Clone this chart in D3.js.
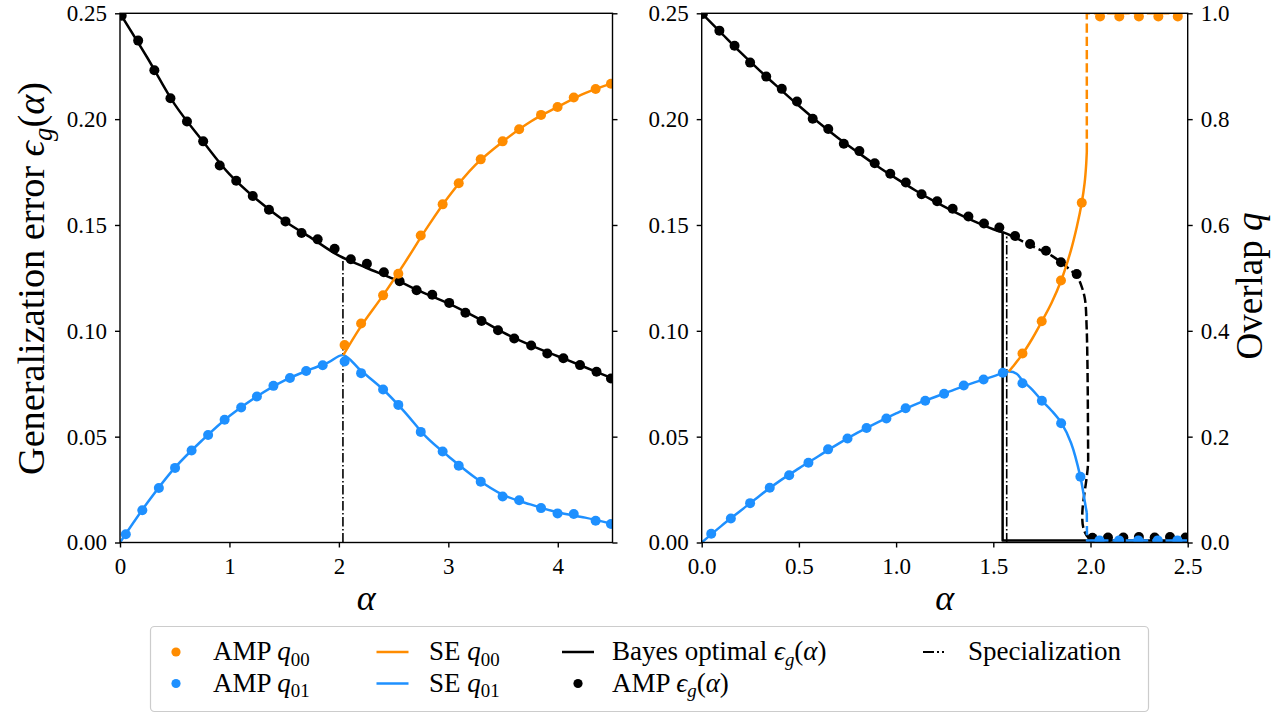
<!DOCTYPE html>
<html><head><meta charset="utf-8">
<script src="https://cdn.jsdelivr.net/npm/d3@7"></script>
<style>
body{margin:0;background:#fff;}
svg{display:block;}
</style>
</head><body>
<svg id="c" width="1283" height="713"></svg>
<script>
// ---------------- DATA : left panel ----------------
const alphaAmpEpsL=[0.015,0.166,0.314,0.461,0.612,0.760,0.911,1.062,1.213,1.361,1.512,1.659,1.806,1.961,2.109,2.256,2.411,2.555,2.710,2.853,3.008,3.156,3.303,3.454,3.602,3.757,3.904,4.051,4.203,4.354,4.486];
const ampEpsL=[0.2489,0.2371,0.2231,0.2099,0.1989,0.1895,0.1781,0.1709,0.1637,0.1572,0.1517,0.1462,0.1432,0.1388,0.1338,0.1317,0.1277,0.1234,0.1192,0.1170,0.1132,0.1085,0.1046,0.1003,0.0964,0.0931,0.0893,0.0870,0.0838,0.0807,0.0775];
const alphaBayesL=[0,0.25,0.5,0.75,1.0,1.25,1.5,1.75,2.0,2.25,2.5,2.75,3.0,3.25,3.5,3.75,4.0,4.25,4.5];
const bayesEpsL=[0.250,0.2290,0.2070,0.1900,0.1740,0.1620,0.1520,0.1438,0.1355,0.1298,0.1245,0.1185,0.1130,0.1065,0.0993,0.0932,0.0880,0.0828,0.0775];
const alphaAmpQ01L=[0.053,0.204,0.355,0.503,0.654,0.805,0.956,1.107,1.251,1.402,1.553,1.701,1.852,2.052,2.203,2.404,2.543,2.748,2.948,3.095,3.296,3.496,3.647,3.847,3.998,4.146,4.346,4.486];
const ampQ01L=[0.0157,0.061,0.103,0.141,0.174,0.203,0.232,0.255,0.276,0.296,0.311,0.324,0.335,0.342,0.320,0.289,0.260,0.209,0.172,0.145,0.115,0.087,0.080,0.065,0.055,0.054,0.041,0.035];
const alphaAmpQ00L=[2.052,2.203,2.404,2.543,2.748,2.948,3.095,3.296,3.496,3.647,3.847,3.998,4.146,4.346,4.486];
const ampQ00L=[0.373,0.414,0.467,0.508,0.580,0.639,0.679,0.724,0.758,0.781,0.808,0.823,0.841,0.857,0.867];
const alphaSeQ01L=[0,0.25,0.5,0.75,1.0,1.25,1.5,1.75,1.9,2.04,2.2,2.4,2.6,2.8,3.0,3.25,3.5,3.75,4.0,4.25,4.5];
const seQ01L=[0,0.075,0.141,0.193,0.239,0.276,0.306,0.328,0.340,0.354,0.325,0.290,0.247,0.199,0.163,0.122,0.090,0.072,0.057,0.047,0.035];
const alphaSeQ00L=[2.04,2.2,2.4,2.6,2.8,3.0,3.25,3.5,3.75,4.0,4.25,4.5];
const seQ00L=[0.354,0.408,0.466,0.528,0.593,0.653,0.714,0.758,0.795,0.823,0.849,0.868];
const alphaSpecL=[2.037,2.037];
const specEpsL=[0,0.1343];

// ---------------- DATA : right panel ----------------
const alphaAmpEpsR=[0.006,0.091,0.169,0.249,0.332,0.412,0.490,0.571,0.651,0.731,0.811,0.890,0.970,1.050,1.131,1.211,1.291,1.372,1.452,1.531,1.612,1.689,1.771,1.848,1.929,2.010,2.090,2.169,2.249,2.330,2.409,2.489];
const ampEpsR=[0.2497,0.2418,0.2347,0.2267,0.2201,0.2143,0.2083,0.2002,0.1953,0.1884,0.1849,0.1792,0.1742,0.1701,0.1645,0.1612,0.1577,0.1540,0.1507,0.1488,0.1448,0.1410,0.1378,0.1324,0.1268,0.0022,0.0024,0.0024,0.0026,0.0024,0.0026,0.0024];
const alphaBayesR=[0,0.1,0.2,0.3,0.4,0.5,0.6,0.7,0.8,0.9,1.0,1.1,1.2,1.3,1.4,1.5,1.548];
const bayesEpsR=[0.2500,0.2408,0.2315,0.2228,0.2145,0.2063,0.1985,0.1912,0.1845,0.1780,0.1720,0.1663,0.1610,0.1562,0.1518,0.1480,0.1466];
const alphaBayesStepR=[1.548,1.548,2.5];
const bayesStepEpsR=[0.1466,0.001,0.001];
const alphaMetaEpsR=[1.548,1.6,1.7,1.8,1.9,1.93,1.955,1.972,1.980,1.984,1.988,1.990,2.5];
const metaEpsR=[0.1466,0.1446,0.1400,0.1355,0.1284,0.1258,0.1208,0.1146,0.1020,0.0862,0.0400,0.0022,0.0022];
const alphaAmpQ01R=[0.049,0.150,0.249,0.350,0.450,0.549,0.650,0.750,0.848,0.950,1.049,1.150,1.247,1.348,1.450,1.549,1.650,1.750,1.849,1.948,2.046,2.147,2.246,2.346,2.447];
const ampQ01R=[0.0164,0.0452,0.0744,0.1036,0.1272,0.1508,0.1760,0.1964,0.2164,0.2344,0.2536,0.2680,0.2812,0.2968,0.3080,0.3208,0.3008,0.2680,0.2252,0.1244,0.004,0.004,0.004,0.004,0.004];
const alphaAmpQ00R=[1.650,1.749,1.848,1.955,2.049,2.148,2.249,2.349,2.449];
const ampQ00R=[0.357,0.418,0.495,0.642,0.994,0.994,0.994,0.994,0.994];
const alphaSeQ01R=[0,0.1,0.2,0.3,0.4,0.5,0.6,0.7,0.8,0.9,1.0,1.1,1.2,1.3,1.4,1.5,1.58,1.62,1.65,1.7,1.75,1.8,1.85,1.9,1.948,1.965,1.975,1.981];
const seQ01R=[0,0.031,0.060,0.089,0.116,0.140,0.163,0.186,0.207,0.226,0.244,0.261,0.275,0.289,0.302,0.314,0.323,0.319,0.306,0.289,0.268,0.249,0.226,0.188,0.124,0.090,0.068,0.056];
const alphaSeQ01MetaR=[1.981,1.982,2.5];
const seQ01MetaR=[0.056,0.004,0.004];
const alphaSeQ00R=[1.58,1.6,1.65,1.7,1.75,1.8,1.85,1.9,1.93,1.955,1.97,1.977,1.981];
const seQ00R=[0.323,0.332,0.356,0.385,0.418,0.453,0.496,0.553,0.597,0.642,0.680,0.710,0.738];
const alphaSeQ00MetaR=[1.981,1.981,2.5];
const seQ00MetaR=[0.738,1.0,1.0];
const alphaSpecR=[1.569,1.569];
const specEpsR=[0,0.1445];

// ---------------- ticks / labels ----------------
const xTicksL=[0,1,2,3,4];
const xTicksR=[0,0.5,1.0,1.5,2.0,2.5];
const yTicksEps=[0,0.05,0.10,0.15,0.20,0.25];
const yTicksQ=[0,0.2,0.4,0.6,0.8,1.0];

// ---------------- font detection ----------------
function pickFont(cands){
  const c=document.createElement("canvas").getContext("2d");
  const s="Generalization 0.25 AMPqg";
  function w(f){c.font="40px "+f;return c.measureText(s).width;}
  const m=w("monospace"), ss=w("sans-serif");
  for(const f of cands){
    const q='"'+f+'"';
    if(Math.abs(w(q+",monospace")-m)>0.5 && Math.abs(w(q+",sans-serif")-ss)>0.5) return q;
  }
  return "serif";
}
const FONT=pickFont(["Liberation Serif","DejaVu Serif","Noto Serif","Tinos","Times New Roman","Times","FreeSerif","Nimbus Roman","Nimbus Roman No9 L","Latin Modern Roman","CMU Serif","STIX Two Text","Georgia"]);

// ---------------- layout / style ----------------
const ORANGE="#ff8c00", BLUE="#1e90ff";
const Y0=13.3, Y1=542.5;
const svg=d3.select("#c").attr("font-family",FONT).style("font-family",FONT);
const xL=d3.scaleLinear().domain([0,4.5]).range([120,612.5]);
const xR=d3.scaleLinear().domain([0,2.5]).range([701.7,1187.7]);
const yE=d3.scaleLinear().domain([0,0.25]).range([Y1,Y0]);
const yQ=d3.scaleLinear().domain([0,1]).range([Y1,Y0]);
const TICKFS=23, LABFS=36, LEGFS=27;

function rich(sel,segs){
  let shifted=false;
  sel.style("font-family",FONT);
  segs.forEach(([t,st])=>{
    const ts=sel.append("tspan").text(t);
    if(st.includes("i")) ts.attr("font-style","italic");
    if(st.includes("s")){ ts.attr("font-size","0.7em").attr("dy", shifted?null:"0.3em"); shifted=true; }
    else if(shifted){ ts.attr("dy","-0.21em"); shifted=false; }
  });
  return sel;
}

function makePanel(id,x,xTicks,xFmt,rightLabels){
  const [a,b]=x.range();
  svg.append("clipPath").attr("id",id).append("rect")
    .attr("x",a).attr("y",Y0).attr("width",b-a).attr("height",Y1-Y0);
  const plot=svg.append("g").attr("clip-path",`url(#${id})`);
  const axes=svg.append("g");
  return {plot,axes,x,xTicks,xFmt,rightLabels};
}

function line(g,x,y,xs,ys,color,opt={}){
  const gen=d3.line().x((d,i)=>x(xs[i])).y((d,i)=>y(ys[i]))
    .curve(opt.linear?d3.curveLinear:d3.curveCatmullRom.alpha(0.5));
  g.append("path").attr("d",gen(xs)).attr("fill","none").attr("stroke",color)
    .attr("stroke-width",opt.w||2.5).attr("stroke-dasharray",opt.dash||null)
    .attr("stroke-linejoin","round");
}
function dots(g,x,y,xs,ys,color,r=5){
  g.selectAll(null).data(xs).enter().append("circle")
    .attr("cx",(d,i)=>x(xs[i])).attr("cy",(d,i)=>y(ys[i])).attr("r",r).attr("fill",color);
}
function styleAxis(g){
  g.attr("font-size",null).attr("font-family",null);
  g.select(".domain").remove();
  g.selectAll(".tick line").attr("stroke","#000").attr("stroke-width",1.4);
  g.selectAll(".tick text").attr("font-size",TICKFS).attr("fill","#000").style("font-family",FONT);
}
function finishAxes(p){
  const [a,b]=p.x.range();
  const gx=p.axes.append("g").attr("transform",`translate(0,${Y1})`)
    .call(d3.axisBottom(p.x).tickValues(p.xTicks).tickFormat(p.xFmt).tickSize(5).tickPadding(10.5));
  styleAxis(gx);
  const gy=p.axes.append("g").attr("transform",`translate(${a},0)`)
    .call(d3.axisLeft(yE).tickValues(yTicksEps).tickFormat(d3.format(".2f")).tickSize(5).tickPadding(8));
  styleAxis(gy);
  const gq=p.axes.append("g").attr("transform",`translate(${b},0)`)
    .call(d3.axisRight(yQ).tickValues(yTicksQ).tickFormat(p.rightLabels?d3.format(".1f"):()=>"").tickSize(5).tickPadding(8));
  styleAxis(gq);
  p.axes.append("rect").attr("x",a).attr("y",Y0).attr("width",b-a).attr("height",Y1-Y0)
    .attr("fill","none").attr("stroke","#000").attr("stroke-width",1.4);
  rich(p.axes.append("text").attr("x",(a+b)/2).attr("y",610).attr("text-anchor","middle")
    .attr("font-size",LABFS),[["α","i"]]);
}

// ---------------- left panel ----------------
const L=makePanel("clipL",xL,xTicksL,d3.format("d"),false);
line(L.plot,xL,yE,alphaBayesL,bayesEpsL,"#000");
dots(L.plot,xL,yE,alphaAmpEpsL,ampEpsL,"#000");
line(L.plot,xL,yE,alphaSpecL,specEpsL,"#000",{w:1.6,dash:"9.6,2.4,1.6,2.4",linear:true});
line(L.plot,xL,yQ,alphaSeQ01L,seQ01L,BLUE);
line(L.plot,xL,yQ,alphaSeQ00L,seQ00L,ORANGE);
dots(L.plot,xL,yQ,alphaAmpQ01L,ampQ01L,BLUE);
dots(L.plot,xL,yQ,alphaAmpQ00L,ampQ00L,ORANGE);
finishAxes(L);

// ---------------- right panel ----------------
const R=makePanel("clipR",xR,xTicksR,d3.format(".1f"),true);
line(R.plot,xR,yE,alphaBayesR,bayesEpsR,"#000");
line(R.plot,xR,yE,alphaBayesStepR,bayesStepEpsR,"#000",{linear:true});
line(R.plot,xR,yE,alphaMetaEpsR,metaEpsR,"#000",{dash:"9.25,4"});
dots(R.plot,xR,yE,alphaAmpEpsR,ampEpsR,"#000");
line(R.plot,xR,yE,alphaSpecR,specEpsR,"#000",{w:1.6,dash:"9.6,2.4,1.6,2.4",linear:true});
line(R.plot,xR,yQ,alphaSeQ01R,seQ01R,BLUE);
line(R.plot,xR,yQ,alphaSeQ01MetaR,seQ01MetaR,BLUE,{dash:"9.25,4",linear:true});
line(R.plot,xR,yQ,alphaSeQ00R,seQ00R,ORANGE);
line(R.plot,xR,yQ,alphaSeQ00MetaR,seQ00MetaR,ORANGE,{dash:"9.25,4",linear:true});
dots(R.plot,xR,yQ,alphaAmpQ01R,ampQ01R,BLUE);
dots(R.plot,xR,yQ,alphaAmpQ00R,ampQ00R,ORANGE);
finishAxes(R);

// ---------------- y labels ----------------
function fitWidth(t,target){
  const w=t.node().getComputedTextLength();
  const fs=parseFloat(t.attr("font-size"));
  t.attr("font-size",fs*target/w);
}
const yl=svg.append("text").attr("transform","translate(44,278.5) rotate(-90)")
  .attr("text-anchor","middle").attr("font-size",LABFS);
rich(yl,[["Generalization error ","r"],["ϵ","i"],["g","is"],["(","r"],["α","i"],[")","r"]]);
fitWidth(yl,393);
const yr=svg.append("text").attr("transform","translate(1262,286) rotate(-90)")
  .attr("text-anchor","middle").attr("font-size",LABFS);
rich(yr,[["Overlap ","r"],["q","i"]]);
fitWidth(yr,147);

// ---------------- legend ----------------
const leg=svg.append("g");
leg.append("rect").attr("x",150.5).attr("y",626.5).attr("width",998).attr("height",85).attr("rx",4)
  .attr("fill","#fff").attr("fill-opacity",0.8).attr("stroke","#cccccc").attr("stroke-width",1.2);
const rowY=[652,683.5];
const items=[
  {type:"dot",color:ORANGE,hx:176,tx:213,row:0,segs:[["AMP ","r"],["q","i"],["00","s"]]},
  {type:"dot",color:BLUE,hx:176,tx:213,row:1,segs:[["AMP ","r"],["q","i"],["01","s"]]},
  {type:"line",color:ORANGE,hx:392.5,tx:429,row:0,segs:[["SE ","r"],["q","i"],["00","s"]]},
  {type:"line",color:BLUE,hx:392.5,tx:429,row:1,segs:[["SE ","r"],["q","i"],["01","s"]]},
  {type:"line",color:"#000",hx:578,tx:612,row:0,segs:[["Bayes optimal ","r"],["ϵ","i"],["g","is"],["(","r"],["α","i"],[")","r"]]},
  {type:"dot",color:"#000",hx:578,tx:612,row:1,segs:[["AMP ","r"],["ϵ","i"],["g","is"],["(","r"],["α","i"],[")","r"]]},
  {type:"dashdot",color:"#000",hx:936,tx:968,row:0,segs:[["Specialization","r"]]}
];
items.forEach(it=>{
  const cy=rowY[it.row];
  if(it.type==="dot") leg.append("circle").attr("cx",it.hx).attr("cy",cy).attr("r",4.6).attr("fill",it.color);
  else if(it.type==="line") leg.append("line").attr("x1",it.hx-16).attr("x2",it.hx+16).attr("y1",cy).attr("y2",cy)
    .attr("stroke",it.color).attr("stroke-width",2.5);
  else leg.append("line").attr("x1",it.hx-13).attr("x2",it.hx+13).attr("y1",cy).attr("y2",cy)
    .attr("stroke",it.color).attr("stroke-width",1.8).attr("stroke-dasharray","11,3,2,3,2,20");
  rich(leg.append("text").attr("x",it.tx).attr("y",cy+8).attr("font-size",LEGFS),it.segs);
});
</script>
</body></html>
